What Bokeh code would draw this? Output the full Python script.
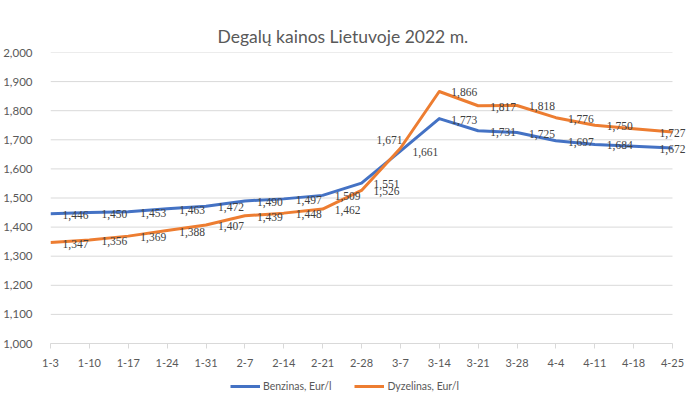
from bokeh.plotting import figure
from bokeh.layouts import column
from bokeh.models import (Range1d, FixedTicker, CustomJSTickFormatter, ColumnDataSource,
                          Legend, LegendItem, LabelSet)
from bokeh.embed import file_html
from bokeh.resources import INLINE

# ---- data ----
dates = ["1-3", "1-10", "1-17", "1-24", "1-31", "2-7", "2-14", "2-21", "2-28",
         "3-7", "3-14", "3-21", "3-28", "4-4", "4-11", "4-18", "4-25"]
benzinas = [1.446, 1.450, 1.453, 1.463, 1.472, 1.490, 1.497, 1.509, 1.551,
            1.661, 1.773, 1.731, 1.725, 1.697, 1.684, 1.678, 1.672]
dyzelinas = [1.347, 1.356, 1.369, 1.388, 1.407, 1.439, 1.448, 1.462, 1.526,
             1.671, 1.866, 1.817, 1.818, 1.776, 1.750, 1.738, 1.727]
y_ticks = [1.0, 1.1, 1.2, 1.3, 1.4, 1.5, 1.6, 1.7, 1.8, 1.9, 2.0]
series_names = ["Benzinas, Eur/l", "Dyzelinas, Eur/l"]

title = "Degalų kainos Lietuvoje 2022 m."

BLUE = "#4472C4"
ORANGE = "#ED7D31"
FONT = "Lato"
GRAY = "#595959"
GRID = "#D9D9D9"

PLOT_W = 622          # pixel width of the gridded area
EXTRA_R = 16          # extra frame room on the right so end labels are not clipped
n = len(dates)
x_end = (n - 1) * (PLOT_W + EXTRA_R) / PLOT_W

p = figure(frame_width=PLOT_W + EXTRA_R, frame_height=291, output_backend="svg",
           toolbar_location=None,
           x_range=Range1d(0, x_end), y_range=Range1d(1.0, 2.0),
           min_border_left=48, min_border_right=4, min_border_top=52, min_border_bottom=30)

p.title.text = title
p.title.align = "left"
p.title.offset = 167
p.title.text_font = FONT
p.title.text_font_size = "17.5px"
p.title.text_font_style = "normal"
p.title.text_color = GRAY
p.title.standoff = 12

p.outline_line_color = None
p.background_fill_color = "white"
p.border_fill_color = "white"

xs = list(range(n))

# axes
p.xaxis.ticker = FixedTicker(ticks=xs)
p.xaxis.bounds = (0, n - 1)
p.xaxis.major_label_overrides = {i: d for i, d in enumerate(dates)}
p.xaxis.axis_line_color = GRID
p.xaxis.major_tick_line_color = GRID
p.xaxis.major_tick_out = 5
p.xaxis.major_tick_in = 0
p.xaxis.minor_tick_line_color = None
p.xaxis.major_label_text_font = FONT
p.xaxis.major_label_text_font_size = "11px"
p.xaxis.major_label_text_color = GRAY
p.xaxis.major_label_standoff = 10

p.yaxis.ticker = FixedTicker(ticks=y_ticks)
p.yaxis.formatter = CustomJSTickFormatter(code="return tick.toFixed(3).replace('.', ',');")
p.yaxis.axis_line_color = None
p.yaxis.major_tick_line_color = None
p.yaxis.minor_tick_line_color = None
p.yaxis.major_label_text_font = FONT
p.yaxis.major_label_text_font_size = "11.5px"
p.yaxis.major_label_text_color = GRAY
p.yaxis.major_label_standoff = 12

# horizontal gridlines limited to the category span
p.xgrid.grid_line_color = None
p.ygrid.grid_line_color = None
p.segment(x0=[0] * len(y_ticks), x1=[n - 1] * len(y_ticks), y0=y_ticks, y1=y_ticks,
          line_color=GRID, line_width=1)

# lines
p.line(xs, benzinas, line_color=BLUE, line_width=3, line_join="round")
p.line(xs, dyzelinas, line_color=ORANGE, line_width=3, line_join="round")

# data labels
SKIP = {15}
SPECIAL = {("d", 9): (2, 8, "right"), ("b", 16): (-13, -1, "left"), ("d", 16): (-13, -1, "left")}

def fmt(v):
    return f"{v:.3f}".replace(".", ",")

for key, ys in (("b", benzinas), ("d", dyzelinas)):
    lx, ly, lt, xo, yo, al = [], [], [], [], [], []
    for i, v in enumerate(ys):
        if i in SKIP:
            continue
        dx, dy, a = SPECIAL.get((key, i), (12, -1, "left"))
        lx.append(xs[i]); ly.append(v); lt.append(fmt(v))
        xo.append(dx); yo.append(dy); al.append(a)
    src = ColumnDataSource(dict(x=lx, y=ly, t=lt, xo=xo, yo=yo, al=al))
    labels = LabelSet(x="x", y="y", text="t", source=src, x_offset="xo", y_offset="yo",
                      text_align="al", text_baseline="middle", text_font=FONT,
                      text_font_size="11.5px", text_color="#404040")
    p.add_layout(labels)

# ---- legend strip below the chart ----
# the series are re-drawn here outside this strip's visible range, only to feed the legend
lg = figure(frame_width=690, frame_height=35, output_backend="svg", toolbar_location=None,
            x_range=Range1d(-2, -1), y_range=Range1d(-2, -1),
            min_border_left=0, min_border_right=0, min_border_top=0, min_border_bottom=0,
            x_axis_type=None, y_axis_type=None)
lg.outline_line_color = None
lg.xgrid.grid_line_color = None
lg.ygrid.grid_line_color = None
sw_b = lg.line(xs, benzinas, line_color=BLUE, line_width=3)
sw_d = lg.line(xs, dyzelinas, line_color=ORANGE, line_width=3)

legend = Legend(items=[LegendItem(label=series_names[0], renderers=[sw_b]),
                       LegendItem(label=series_names[1], renderers=[sw_d])],
                orientation="horizontal", location=(230, 14))
legend.border_line_color = None
legend.background_fill_alpha = 0
legend.glyph_width = 30
legend.glyph_height = 16
legend.label_height = 16
legend.label_standoff = 3
legend.spacing = 23
legend.padding = 0
legend.margin = 0
legend.label_text_font = FONT
legend.label_text_font_size = "10.5px"
legend.label_text_color = GRAY
lg.add_layout(legend)

layout = column(p, lg, spacing=0)

open("out.html", "w").write(file_html(layout, INLINE))
